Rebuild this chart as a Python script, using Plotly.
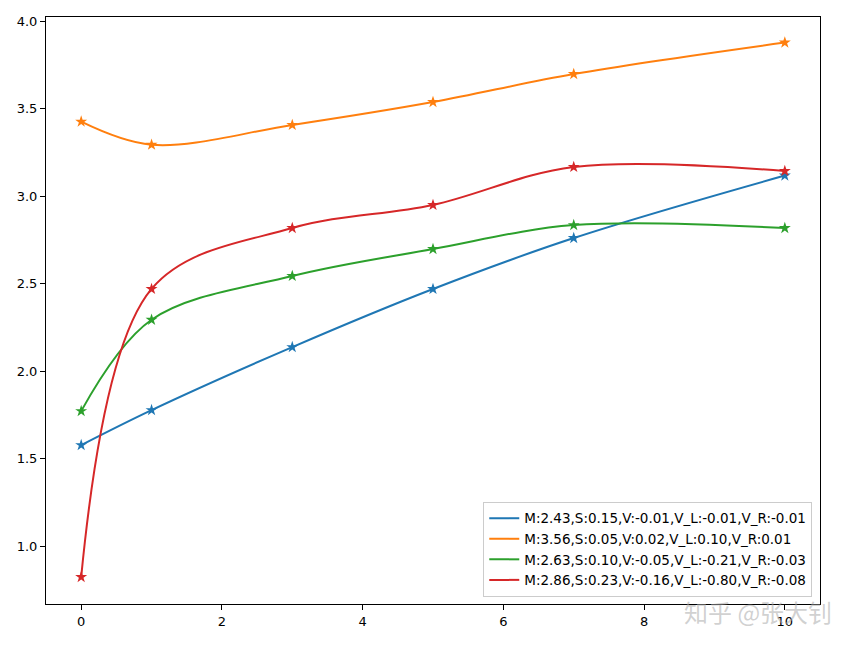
import plotly.graph_objects as go

x_vals = [0, 1, 3, 5, 7, 10]
blue = [1.577, 1.777, 2.137, 2.469, 2.760, 3.117]
orange = [3.425, 3.293, 3.406, 3.537, 3.697, 3.877]
green = [1.771, 2.293, 2.543, 2.697, 2.834, 2.817]
red = [0.823, 2.469, 2.817, 2.949, 3.166, 3.143]
labels = [
    "M:2.43,S:0.15,V:-0.01,V_L:-0.01,V_R:-0.01",
    "M:3.56,S:0.05,V:0.02,V_L:0.10,V_R:0.01",
    "M:2.63,S:0.10,V:-0.05,V_L:-0.21,V_R:-0.03",
    "M:2.86,S:0.23,V:-0.16,V_L:-0.80,V_R:-0.08",
]
colors = ["#1f77b4", "#ff7f0e", "#2ca02c", "#d62728"]
series = [blue, orange, green, red]

fig = go.Figure()
for ys, lab, c in zip(series, labels, colors):
    fig.add_trace(go.Scatter(
        x=x_vals, y=ys, name=lab, mode="lines",
        line=dict(color=c, width=2, shape="spline", smoothing=1.0),
    ))
    fig.add_trace(go.Scatter(
        x=x_vals, y=ys, name=lab, mode="markers", showlegend=False,
        marker=dict(symbol="star", size=9, color=c),
    ))

axis_common = dict(
    showgrid=False, zeroline=False, showline=True, linecolor="black",
    linewidth=1, mirror=True, ticks="outside", ticklen=5, tickcolor="black",
    tickfont=dict(family="DejaVu Sans", size=13, color="black"),
)
fig.update_xaxes(range=[-0.5, 10.5], tickvals=[0, 2, 4, 6, 8, 10], **axis_common)
fig.update_yaxes(range=[0.669, 4.023], tickvals=[1.0, 1.5, 2.0, 2.5, 3.0, 3.5, 4.0],
                 tickformat=".1f", **axis_common)

fig.update_layout(
    width=856, height=645,
    margin=dict(l=46, r=36, t=17, b=41),
    plot_bgcolor="white", paper_bgcolor="white",
    legend=dict(
        x=0.99, y=0.012, xanchor="right", yanchor="bottom",
        bgcolor="rgba(255,255,255,0.8)", bordercolor="#cccccc", borderwidth=1,
        font=dict(family="DejaVu Sans", size=13.5, color="black"),
        itemwidth=30, tracegroupgap=0,
    ),
    showlegend=True,
)
fig.add_annotation(
    text="知乎 @张大钊", xref="paper", yref="paper", x=0.92, y=-0.012,
    xanchor="center", yanchor="middle", showarrow=False,
    font=dict(family="Noto Sans CJK SC", size=24, color="rgba(170,170,170,0.55)"),
)

fig.write_html("out.html")
